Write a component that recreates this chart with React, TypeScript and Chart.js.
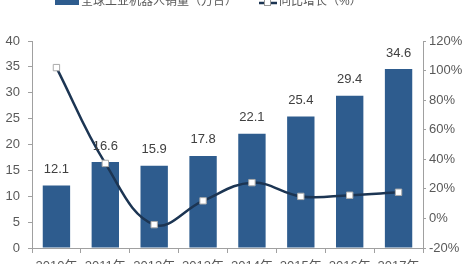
import React, { useEffect, useRef } from "react";
import { Chart, registerables } from "chart.js";

Chart.register(...registerables);

const categories = ["2010年", "2011年", "2012年", "2013年", "2014年", "2015年", "2016年", "2017年"];
const salesValues = [12.1, 16.6, 15.9, 17.8, 22.1, 25.4, 29.4, 34.6];
const growthValues = [102, 37.2, -4.2, 11.9, 24.2, 14.9, 15.7, 17.7];
const salesLabel = "全球工业机器人销量（万台）";
const growthLabel = "同比增长（%）";

const BAR = "#2e5c8e";
const LINE = "#1c3553";
const TXT = "#595959";
const AXIS = "#a0a0a0";
const FONT = "'Liberation Sans', 'Noto Sans CJK SC', sans-serif";

const valueLabels = {
  id: "valueLabels",
  afterDatasetsDraw(chart: any) {
    const ctx = chart.ctx;
    const meta = chart.getDatasetMeta(0);
    ctx.save();
    ctx.font = `13px ${FONT}`;
    ctx.fillStyle = "#404040";
    ctx.textAlign = "center";
    ctx.textBaseline = "middle";
    meta.data.forEach((bar: any, i: number) => {
      ctx.fillText(String(salesValues[i]), bar.x, bar.y - 16);
    });
    ctx.restore();
  },
};

const customLegend = {
  id: "customLegend",
  afterDraw(chart: any) {
    const ctx = chart.ctx;
    ctx.save();
    ctx.fillStyle = BAR;
    ctx.fillRect(55, -5, 24, 10);
    ctx.font = `12px ${FONT}`;
    ctx.fillStyle = TXT;
    ctx.textAlign = "left";
    ctx.textBaseline = "middle";
    ctx.fillText(salesLabel, 81, 2);
    ctx.strokeStyle = LINE;
    ctx.lineWidth = 2.5;
    ctx.beginPath();
    ctx.moveTo(259, 3);
    ctx.lineTo(277, 3);
    ctx.stroke();
    ctx.fillStyle = "#fff";
    ctx.fillRect(264, -1, 7, 7);
    ctx.strokeStyle = "#999";
    ctx.lineWidth = 1;
    ctx.strokeRect(264.5, -0.5, 6, 6);
    ctx.fillStyle = TXT;
    ctx.fillText(growthLabel, 279, 2);
    ctx.restore();
  },
};

export default function App() {
  const ref = useRef<HTMLCanvasElement>(null);
  useEffect(() => {
    if (!ref.current) return;
    const chart = new Chart(ref.current, {
      type: "bar",
      data: {
        labels: categories,
        datasets: [
          {
            type: "bar",
            label: salesLabel,
            data: salesValues,
            backgroundColor: BAR,
            barPercentage: 0.56,
            categoryPercentage: 1,
            yAxisID: "y",
            order: 1,
          },
          {
            type: "line",
            label: growthLabel,
            data: growthValues,
            borderColor: LINE,
            borderWidth: 2.5,
            tension: 0.4,
            pointStyle: "rect",
            pointRadius: 4.5,
            pointBackgroundColor: "#fff",
            pointBorderColor: "#aaa",
            pointBorderWidth: 1,
            yAxisID: "y1",
            order: 0,
          } as any,
        ],
      },
      options: {
        animation: false,
        responsive: false,
        maintainAspectRatio: false,
        layout: { padding: { top: 41, left: 0, right: 0, bottom: 0 } },
        plugins: { legend: { display: false }, tooltip: { enabled: false } },
        scales: {
          x: {
            offset: true,
            grid: { drawOnChartArea: false, offset: true, tickLength: 5, color: AXIS },
            border: { color: AXIS },
            ticks: { color: TXT, font: { size: 13, family: FONT }, padding: 6, maxRotation: 0 },
            afterFit: (s: any) => { s.height = 16; },
          },
          y: {
            position: "left",
            min: 0,
            max: 40,
            ticks: { stepSize: 5, color: TXT, font: { size: 13, family: FONT }, padding: 8 },
            grid: { drawOnChartArea: false, tickLength: 4, color: AXIS },
            border: { color: AXIS },
            afterFit: (s: any) => { s.width = 32; },
          },
          y1: {
            position: "right",
            min: -20,
            max: 120,
            ticks: { stepSize: 20, color: TXT, font: { size: 13, family: FONT }, padding: 3, callback: (v: any) => v + "%" },
            grid: { drawOnChartArea: false, tickLength: 3, color: AXIS },
            border: { color: AXIS },
            afterFit: (s: any) => { s.width = 45; },
          },
        },
      },
      plugins: [valueLabels, customLegend],
    });
    return () => chart.destroy();
  }, []);
  return (
    <div style={{ position: "fixed", left: 0, top: 0, width: 468, height: 264, background: "#fff" }}>
      <canvas ref={ref} width={468} height={264} style={{ display: "block", width: 468, height: 264 }} />
    </div>
  );
}
